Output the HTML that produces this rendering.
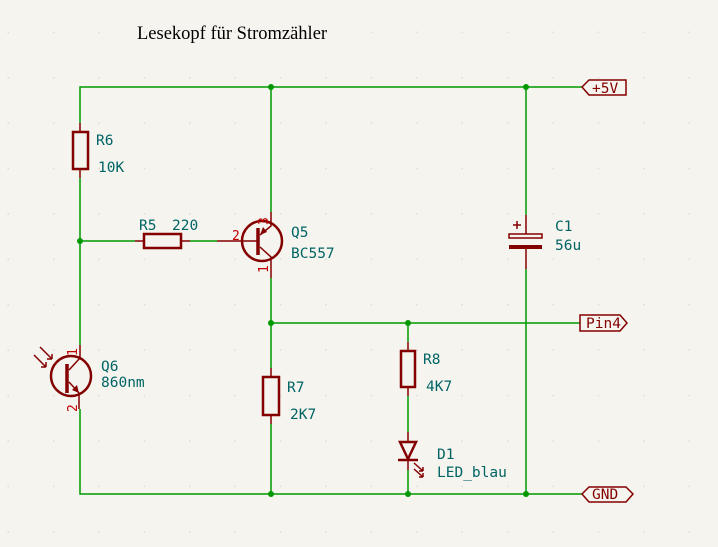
<!DOCTYPE html>
<html><head><meta charset="utf-8"><style>
html,body{margin:0;padding:0;background:#f5f4ef;}
svg{display:block}
.t{font-family:"DejaVu Sans Mono","Liberation Mono",monospace;font-size:14.5px;fill:#006464}
.p{font-family:"DejaVu Sans Mono","Liberation Mono",monospace;font-size:13px;fill:#c00000}
.l{font-family:"DejaVu Sans Mono","Liberation Mono",monospace;font-size:14.5px;fill:#840000}
.w{stroke:#009900;stroke-width:1.5;fill:none}
.c{stroke:#840000;stroke-width:1.5;fill:none}
.cb{stroke:#840000;stroke-width:2.5;fill:none}
</style></head><body>
<svg width="718" height="547" viewBox="0 0 718 547" xmlns="http://www.w3.org/2000/svg">
<defs><pattern id="g" x="7.5" y="31.6" width="45.4" height="45.4" patternUnits="userSpaceOnUse"><rect x="0" y="0" width="1.5" height="1.5" fill="#dcdcdc"/></pattern></defs>
<rect width="718" height="547" fill="#f5f4ef"/>
<rect width="718" height="547" fill="url(#g)"/>
<text x="137" y="39" font-family="Liberation Serif,serif" font-size="18.5" fill="#000">Lesekopf für Stromzähler</text>

<path class="w" d="M80 123 V87 H582 M80 178 V345 M80 409 V494 H582 M80 241 H135 M190 241 H217 M271 87 V212 M271 278 V368 M271 424 V494 M271 323 H580 M408 323 V342 M408 396 V432 M408 470 V494 M526 87 V215 M526 269 V494"/>
<g fill="#009900"><circle cx="271" cy="87" r="3"/><circle cx="526" cy="87" r="3"/><circle cx="80" cy="241" r="3"/><circle cx="271" cy="323" r="3"/><circle cx="408" cy="323" r="3"/><circle cx="271" cy="494" r="3"/><circle cx="408" cy="494" r="3"/><circle cx="526" cy="494" r="3"/></g>

<path class="c" d="M80 123 V132 M80 169 V178"/>
<rect class="cb" x="73" y="132" width="15" height="37"/>
<text class="t" x="96" y="145">R6</text><text class="t" x="98" y="172">10K</text>

<path class="c" d="M135 241 H144 M181 241 H190"/>
<rect class="cb" x="144" y="234" width="37" height="14"/>
<text class="t" x="139" y="230">R5</text><text class="t" x="172" y="230">220</text>

<circle class="cb" cx="262" cy="241" r="20"/>
<path class="c" d="M217 241 H258 M271 212 V226 L260 235 M260 247 L271 257 V278"/>
<path d="M258 228 V255" stroke="#840000" stroke-width="3.5"/>
<path d="M260 235 L263 227 L267 232 Z" fill="#840000"/>
<text class="p" x="232" y="240">2</text>
<text class="p" transform="translate(268,225) rotate(-90)">3</text>
<text class="p" transform="translate(268,273) rotate(-90)">1</text>
<text class="t" x="291" y="237">Q5</text><text class="t" x="291" y="258">BC557</text>

<circle class="cb" cx="71" cy="376" r="20"/>
<path class="c" d="M80 345 V358 L69 370 M69 382 L79 393 V409"/>
<path d="M67 364 V393" stroke="#840000" stroke-width="3.5"/>
<path d="M79 393 L72 390 L77 385 Z" fill="#840000"/>
<path class="c" stroke-width="1" d="M40 347 L52 359 M34 355 L46 367 M52 359 l-5 0 M52 359 l0 -5 M46 367 l-5 0 M46 367 l0 -5"/>
<text class="p" transform="translate(77,356) rotate(-90)">1</text>
<text class="p" transform="translate(77,412) rotate(-90)">2</text>
<text class="t" x="101" y="371">Q6</text><text class="t" x="101" y="387">860nm</text>

<path class="c" d="M271 368 V377 M271 415 V424"/>
<rect class="cb" x="263" y="377" width="16" height="38"/>
<text class="t" x="287" y="392">R7</text><text class="t" x="290" y="419">2K7</text>

<path class="c" d="M408 342 V351 M408 387 V396"/>
<rect class="cb" x="401" y="351" width="14" height="36"/>
<text class="t" x="423" y="364">R8</text><text class="t" x="426" y="391">4K7</text>

<path class="c" d="M408 432 V442 M408 460 V470"/>
<path class="cb" d="M400 442 H416 L408 459 Z M398 460 H418"/>
<path class="c" stroke-width="1" d="M414 463 L423 471 M414 469 L423 477 M423 471 l-4 0 M423 471 l0 -4 M423 477 l-4 0 M423 477 l0 -4"/>
<text class="t" x="437" y="459">D1</text><text class="t" x="437" y="477">LED_blau</text>

<path class="c" d="M526 215 V234 M526 249 V269 M513 225 H521 M517 221 V229"/>
<rect class="c" x="509" y="234" width="33" height="4"/>
<rect x="509" y="245" width="33" height="4" fill="#840000"/>
<text class="t" x="555" y="231">C1</text><text class="t" x="555" y="250">56u</text>

<path class="c" d="M582 87 L589 80 H626 V95 H589 Z"/>
<text class="l" x="592" y="93">+5V</text>
<path class="c" d="M580 315 H620 L627 323 L620 331 H580 Z"/>
<text class="l" x="586" y="328">Pin4</text>
<path class="c" d="M582 494 L589 487 H626 L633 494 L626 502 H589 Z"/>
<text class="l" x="592" y="499">GND</text>
</svg>
</body></html>
